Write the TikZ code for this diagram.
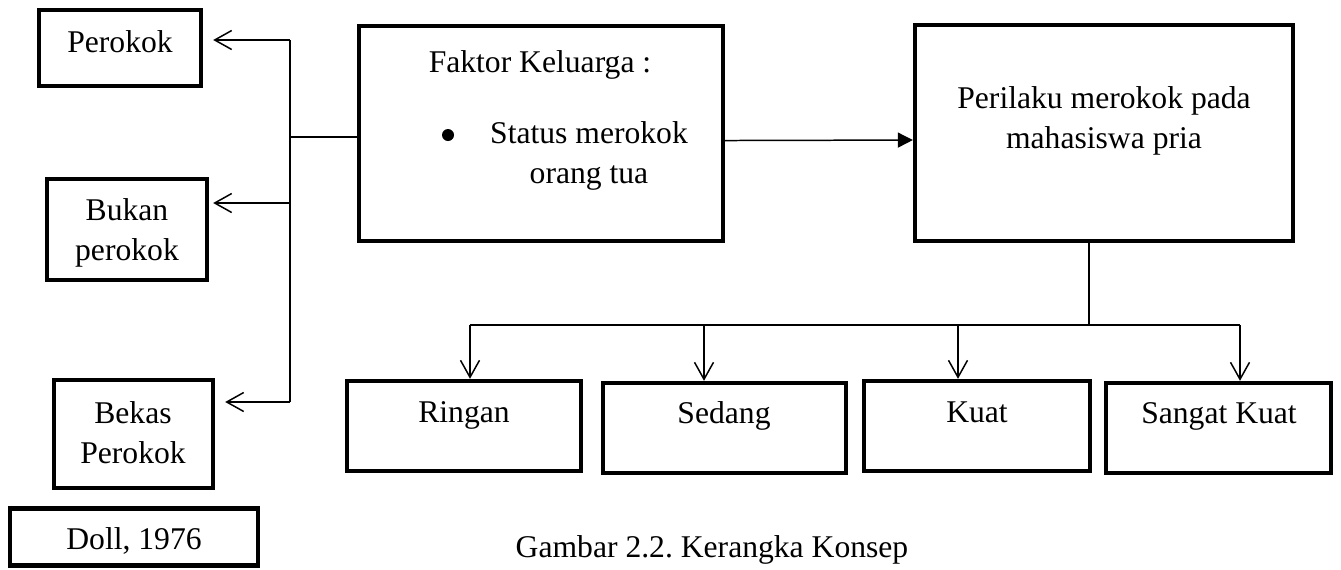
\documentclass[tikz,border=0pt]{standalone}
\usepackage{fontspec}
\setmainfont{Liberation Serif}
\usetikzlibrary{arrows.meta}

\begin{document}
\begin{tikzpicture}[x=0.02cm, y=-0.02cm,
    kotak/.style={draw, line width=2.5pt, inner sep=0pt},
    teks/.style={inner sep=0pt, anchor=base, align=center, font=\fontsize{18}{22.5}\selectfont},
    garis/.style={line width=0.85pt},
    panah/.style={garis, -{Straight Barb[length=0.34cm, width=0.38cm]}},
    panahPenuh/.style={garis, -{Triangle[length=0.3cm, width=0.3cm]}}]

        \useasboundingbox (0,0) rectangle (1341,569);

        % kotak kiri
        \node[kotak, minimum width=3.24cm, minimum height=1.52cm] (perokok) at (120,48) {};
        \node[kotak, minimum width=3.2cm, minimum height=2.02cm] (bukan) at (127,229.5) {};
        \node[kotak, minimum width=3.18cm, minimum height=2.16cm] (bekas) at (133.5,434) {};
        \node[kotak, minimum width=4.96cm, minimum height=1.14cm] (doll) at (134,537) {};
        \node[teks] (tPerokok) at (120,52) {Perokok};
        \node[teks] (tBukan) at (127,260) {Bukan\\perokok};
        \node[teks] (tBekas) at (133,463) {Bekas\\Perokok};
        \node[teks] (tDoll) at (134,549) {Doll, 1976};

        % kotak atas
        \node[kotak, minimum width=7.28cm, minimum height=4.3cm] (faktor) at (541,133.5) {};
        \node[kotak, minimum width=7.56cm, minimum height=4.32cm] (perilaku) at (1104,133) {};
        \node[teks] (tFaktor) at (540,72) {Faktor Keluarga :};
        \node[circle, fill, inner sep=0pt, minimum size=0.24cm] (titik) at (448,135) {};
        \node[teks] (tStatus) at (589,183) {Status merokok\\orang tua};
        \node[teks] (tPerilaku) at (1104,148) {Perilaku merokok pada\\mahasiswa pria};

        % kotak bawah
        \node[kotak, minimum width=4.68cm, minimum height=1.8cm] (ringan) at (464,426) {};
        \node[kotak, minimum width=4.86cm, minimum height=1.8cm] (sedang) at (724.5,428) {};
        \node[kotak, minimum width=4.52cm, minimum height=1.8cm] (kuat) at (977,426) {};
        \node[kotak, minimum width=4.5cm, minimum height=1.8cm] (sangat) at (1218.5,428) {};
        \node[teks] (tRingan) at (464,422) {Ringan};
        \node[teks] (tSedang) at (724,423) {Sedang};
        \node[teks] (tKuat) at (977,422) {Kuat};
        \node[teks] (tSangat) at (1219,423) {Sangat Kuat};

        \node[teks] (judul) at (712,557) {Gambar 2.2.\ Kerangka Konsep};

        % garis kiri
        \coordinate (kiriA) at (290,40);
        \coordinate (kiriB) at (290,203);
        \coordinate (kiriC) at (290,402);
        \draw[garis] (kiriA) -- (kiriC);
        \draw[garis] ([yshift=-2pt]faktor.west) -- ([yshift=-2pt]faktor.west -| kiriA);
        \draw[panah, shorten >=0.2cm] (kiriA) -- (kiriA -| perokok.east);
        \draw[panah, shorten >=0.08cm] (kiriB) -- (kiriB -| bukan.east);
        \draw[panah, shorten >=0.2cm] (kiriC) -- (kiriC -| bekas.east);

        % panah ke perilaku
        \draw[panahPenuh] ([yshift=-4pt]faktor.east) -- ([yshift=-4pt]perilaku.west);

        % garis bawah
        \coordinate (tengah) at (1089,325);
        \draw[garis] (perilaku.south -| tengah) -- (tengah);
        \draw[garis] (470,325) coordinate (aringan) -- (1240,325) coordinate (asangat);
        \coordinate (asedang) at (704,325);
        \coordinate (akuat) at (958,325);
        \foreach \k in {ringan, sedang, kuat, sangat}
            \draw[panah] (a\k) -- (a\k |- \k.north);
\end{tikzpicture}
\end{document}
